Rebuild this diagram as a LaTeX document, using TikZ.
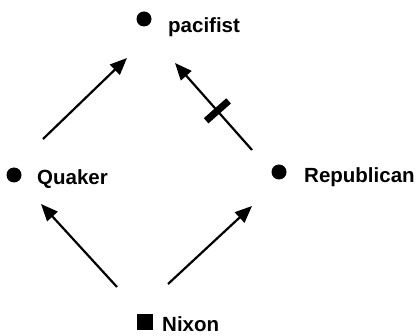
\documentclass[tikz,border=0pt]{standalone}
\usepackage{fontspec}
\setmainfont{Liberation Sans}
\usetikzlibrary{arrows.meta,positioning,calc}

\begin{document}
\begin{tikzpicture}[
  x=1pt, y=-1pt,
  font=\fontsize{20.5}{24}\selectfont\bfseries,
  >={Triangle[length=17pt,width=14pt]},
  dot/.style={circle, fill, inner sep=0pt, minimum size=15pt},
  sq/.style={rectangle, fill, inner sep=0pt, minimum size=16pt},
  word/.style={anchor=base west, inner sep=0pt},
  arrow/.style={->, line width=2.2pt},
  block/.style={fill, inner sep=0pt, minimum width=7pt, minimum height=30pt}
]
\useasboundingbox (0,0) rectangle (417,336);

\node[dot] (pacifistdot) at (144,19) {};
\node[word] (pacifist) at (168,33) {pacifist};

\node[dot] (quakerdot) at (14,175) {};
\node[word] (quaker) at (37,185) {Quaker};

\node[dot] (republicandot) at (279,172) {};
\node[word] (republican) at (304,183) {Republican};

\node[sq] (nixondot) at (145,322) {};
\node[word] (nixon) at (162,331) {Nixon};

% arrow ends
\coordinate (q-out) at (43,139);
\coordinate (p-in1) at (127,58);
\coordinate (r-out) at (252,150);
\coordinate (p-in2) at (175,63);
\coordinate (n-out1) at (117,287);
\coordinate (q-in) at (41,204);
\coordinate (n-out2) at (168,284);
\coordinate (r-in) at (252,206);

\draw[arrow] (q-out) -- (p-in1);
\draw[arrow] (r-out) -- node[block, pos=0.45, sloped] (cut) {} (p-in2);
\draw[arrow] (n-out1) -- (q-in);
\draw[arrow] (n-out2) -- (r-in);

\end{tikzpicture}
\end{document}
